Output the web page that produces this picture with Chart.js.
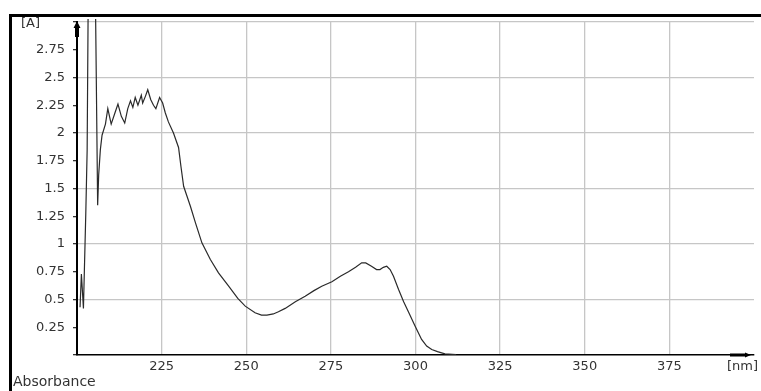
<!DOCTYPE html>
<html>
<head>
<meta charset="utf-8">
<title>Absorbance spectrum</title>
<script src="https://cdn.jsdelivr.net/npm/chart.js@4/dist/chart.umd.min.js"></script>
<style>
  html, body { margin: 0; padding: 0; background: #ffffff; }
  #wrap { width: 761px; height: 391px; }
</style>
</head>
<body>
<div id="wrap"><canvas id="spec" width="761" height="391"></canvas></div>
<script>
// UV absorbance scan: wavelength in nm, absorbance in A
const wavelength = [
  200.9, 201.3, 201.9, 202.6, 203.0, 203.4, 205.3, 205.6, 206.1, 206.4,
  206.9, 207.4, 208.4, 209.1, 210.1, 211.2, 212.1, 213.1, 214.1, 215.0,
  215.8, 216.5, 217.2, 218.0, 219.0, 219.4, 220.2, 220.9, 221.8, 222.6,
  223.3, 224.4, 225.3, 226.1, 227.0, 228.5, 230.0, 230.7, 231.5, 232.5,
  233.5, 235.0, 236.9, 239.4, 241.8, 244.8, 247.5, 249.7, 252.6, 254.5,
  256.1, 258.0, 259.5, 261.5, 264.5, 267.4, 270.0, 272.3, 275.3, 277.8,
  280.2, 282.3, 284.1, 285.3, 287.0, 288.5, 289.5, 290.5, 291.5, 292.5,
  293.5, 295.0, 296.5, 297.9, 299.9, 301.8, 303.3, 304.8, 306.5, 308.7,
  312.0
];
const absorbance = [
  0.43, 0.73, 0.42, 1.28, 1.85, 3.60, 3.60, 2.77, 1.35, 1.62,
  1.85, 1.98, 2.08, 2.22, 2.08, 2.18, 2.26, 2.15, 2.09, 2.22,
  2.29, 2.23, 2.32, 2.25, 2.34, 2.27, 2.33, 2.39, 2.30, 2.25,
  2.22, 2.32, 2.27, 2.18, 2.10, 2.00, 1.87, 1.70, 1.52, 1.43,
  1.34, 1.19, 1.01, 0.86, 0.74, 0.62, 0.51, 0.44, 0.38, 0.36,
  0.36, 0.37, 0.39, 0.42, 0.48, 0.53, 0.58, 0.62, 0.66, 0.71,
  0.75, 0.79, 0.83, 0.83, 0.80, 0.77, 0.77, 0.79, 0.80, 0.77,
  0.71, 0.59, 0.48, 0.39, 0.26, 0.14, 0.08, 0.05, 0.03, 0.01,
  0.003
];

// axis ranges and labels
const xRange = [200, 400];
const xStep = 25;
const yRange = [0, 3];
const yStep = 0.25;
const yUnit = '[A]';
const xUnit = '[nm]';
const yTitle = 'Absorbance';

const FONT = 'DejaVu Sans';
const TEXT = '#333333';
const GRID = '#c6c6c6';

const points = wavelength.map((w, i) => ({ x: w, y: absorbance[i] }));

// window frame, axis arrow heads and unit captions
const decorations = {
  id: 'decorations',
  afterDraw(chart) {
    const ctx = chart.ctx;
    const a = chart.chartArea;
    ctx.save();
    ctx.fillStyle = '#000000';
    // frame (top and left edges)
    ctx.fillRect(9, 14, chart.width - 9, 3);
    ctx.fillRect(9, 14, 3, chart.height - 14);
    // arrow at the top of the absorbance axis
    ctx.beginPath();
    ctx.moveTo(a.left, a.top - 1);
    ctx.lineTo(a.left + 3.5, a.top + 6);
    ctx.lineTo(a.left + 2, a.top + 6);
    ctx.lineTo(a.left + 2, a.top + 15);
    ctx.lineTo(a.left - 2, a.top + 15);
    ctx.lineTo(a.left - 2, a.top + 6);
    ctx.lineTo(a.left - 3.5, a.top + 6);
    ctx.closePath();
    ctx.fill();
    // arrow at the end of the wavelength axis
    ctx.beginPath();
    ctx.moveTo(a.right - 3, a.bottom);
    ctx.lineTo(a.right - 9, a.bottom - 2.5);
    ctx.lineTo(a.right - 9, a.bottom - 1.5);
    ctx.lineTo(a.right - 24, a.bottom - 1.5);
    ctx.lineTo(a.right - 24, a.bottom + 1.5);
    ctx.lineTo(a.right - 9, a.bottom + 1.5);
    ctx.lineTo(a.right - 9, a.bottom + 2.5);
    ctx.closePath();
    ctx.fill();
    // captions
    ctx.fillStyle = TEXT;
    ctx.font = '13px "' + FONT + '"';
    ctx.textBaseline = 'middle';
    ctx.textAlign = 'left';
    ctx.fillText(yUnit, 21, a.top + 2);
    ctx.textAlign = 'right';
    ctx.fillText(xUnit, chart.width - 3, a.bottom + 12);
    ctx.textAlign = 'left';
    ctx.font = '14px "' + FONT + '"';
    ctx.fillText(yTitle, 13, chart.height - 9);
    ctx.restore();
  }
};

new Chart(document.getElementById('spec'), {
  type: 'scatter',
  data: {
    datasets: [{
      data: points,
      showLine: true,
      borderColor: '#2a2a2a',
      borderWidth: 1.2,
      pointRadius: 0,
      tension: 0,
      clip: { left: 0, right: 0, top: 3, bottom: 0 }
    }]
  },
  options: {
    responsive: false,
    animation: false,
    layout: { padding: { top: 22, right: 7, left: 0, bottom: 0 } },
    plugins: {
      legend: { display: false },
      tooltip: { enabled: false }
    },
    scales: {
      x: {
        type: 'linear',
        min: xRange[0],
        max: xRange[1],
        afterFit(scale) { scale.height = 36; },
        ticks: {
          stepSize: xStep,
          autoSkip: false,
          maxRotation: 0,
          padding: 4,
          color: TEXT,
          font: { family: FONT, size: 13 },
          callback: v => (v === xRange[0] || v === xRange[1]) ? '' : String(v)
        },
        grid: {
          drawTicks: false,
          color: c => (c.tick && (c.tick.value === xRange[0] || c.tick.value === xRange[1])) ? 'rgba(0,0,0,0)' : GRID,
          lineWidth: 1.3
        },
        border: { color: '#000000', width: 1.5 }
      },
      y: {
        min: yRange[0],
        max: yRange[1],
        afterFit(scale) { scale.width = 77; },
        ticks: {
          stepSize: yStep,
          autoSkip: false,
          padding: 8,
          color: TEXT,
          font: { family: FONT, size: 13 },
          callback: v => (v === yRange[0] || v === yRange[1]) ? '' : String(v)
        },
        grid: {
          color: c => (c.tick && c.tick.value > 0 && Math.abs(c.tick.value * 2 - Math.round(c.tick.value * 2)) < 1e-9) ? GRID : 'rgba(0,0,0,0)',
          lineWidth: 1.3,
          tickColor: '#333333',
          tickLength: 4
        },
        border: { color: '#000000', width: 2 }
      }
    }
  },
  plugins: [decorations]
});
</script>
</body>
</html>
